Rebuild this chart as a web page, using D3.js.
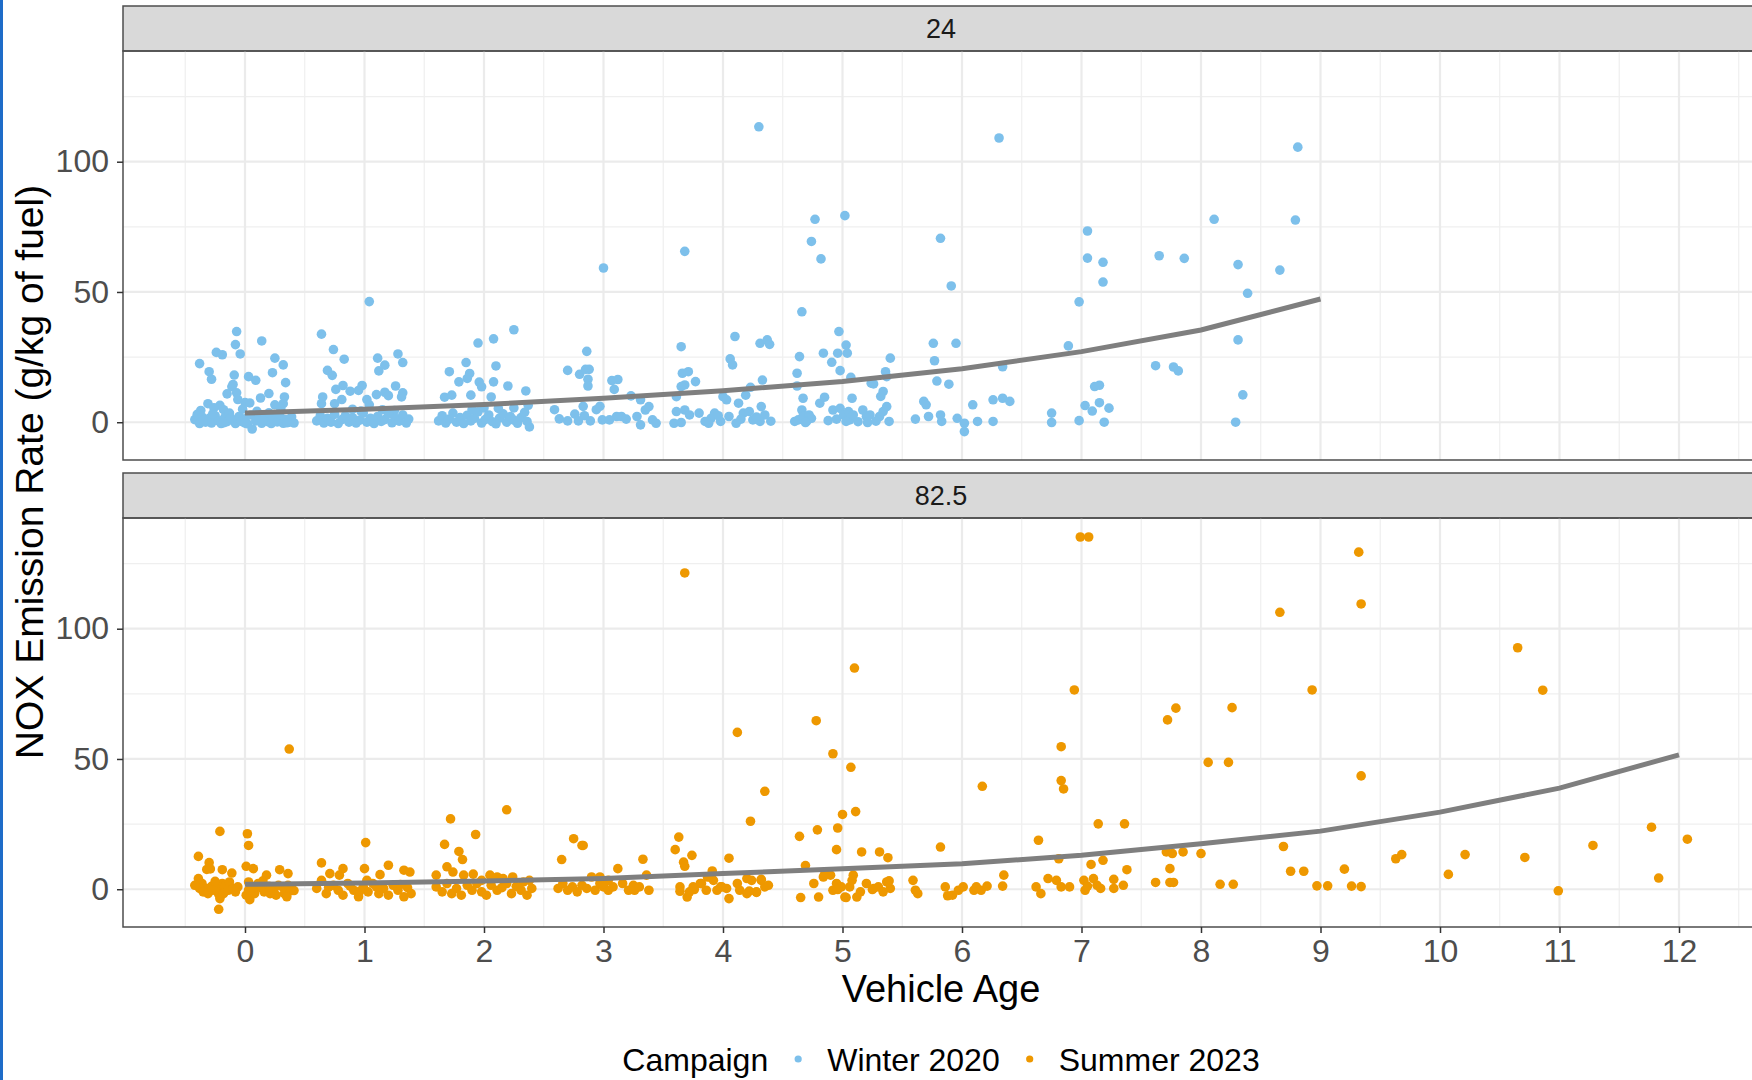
<!DOCTYPE html>
<html>
<head>
<meta charset="utf-8">
<script src="https://cdn.jsdelivr.net/npm/d3@7"></script>
<style>
  body { margin: 0; background: #fff; }
  text { font-family: "Liberation Sans", Arial, Helvetica, sans-serif; }
</style>
</head>
<body>
<div id="chart"></div>
<script>
// facet labels and legend entries
const panelLabels = ["24", "82.5"];
const campaigns = ["Winter 2020", "Summer 2023"];
const campaignColors = ["#7DC0EB", "#EE9800"];

// tick labels
const ageTicks = [0, 1, 2, 3, 4, 5, 6, 7, 8, 9, 10, 11, 12];
const ageMinor = [-0.5, 0.5, 1.5, 2.5, 3.5, 4.5, 5.5, 6.5, 7.5, 8.5, 9.5, 10.5, 11.5, 12.5];
const noxTicks = [0, 50, 100];
const noxMinor = [25, 75, 125];

// smooth fits (per integer age)
const smoothAges24 = [0, 1, 2, 3, 4, 5, 6, 7, 8, 9];
const smoothNox24 = [3.5, 5.0, 6.8, 9.2, 12.1, 15.6, 20.5, 27.1, 35.4, 47.3];
const smoothAges825 = [0, 1, 2, 3, 4, 5, 6, 7, 8, 9, 10, 11, 12];
const smoothNox825 = [1.9, 2.4, 3.2, 4.1, 6.0, 7.9, 9.8, 13.0, 17.5, 22.3, 29.6, 38.8, 51.6];

// Winter 2020 points: [vehicle age (jittered), NOx g/kg]
const winterPoints = [
  [-0.07,34.8],[-0.08,29.8],[-0.04,26.2],[0.14,31.2],[-0.24,26.8],[-0.19,25.9],[-0.38,22.5],[-0.30,19.4],[-0.28,16.5],[-0.09,18.1],
  [0.03,17.5],[0.09,16.1],[0.25,24.6],[0.32,22.0],[0.23,19.0],[0.34,15.2],[-0.11,13.6],[-0.10,14.5],[-0.15,10.9],[-0.07,11.3],
  [0.20,11.0],[0.13,9.3],[0.33,9.7],[0.32,7.1],[-0.31,7.1],[-0.21,6.5],[-0.18,4.8],[-0.06,8.7],[0.00,7.6],[0.04,7.4],[0.25,6.7],
  [-0.37,4.5],[-0.26,5.5],[-0.02,5.0],[0.10,4.2],[0.30,5.1],
  [-0.42,1],[-0.40,3],[-0.38,-0.5],[-0.36,2],[-0.33,0],[-0.30,1.5],[-0.28,-0.3],[-0.25,2.5],[-0.22,0.5],[-0.20,-0.5],
  [-0.17,1.8],[-0.15,0.2],[-0.13,3.5],[-0.10,0.8],[-0.08,-0.5],[-0.05,2.2],[-0.03,0.3],[0.00,1.3],[0.02,-0.6],[0.05,2.8],
  [0.06,-2.6],[0.09,0.5],[0.12,1.8],[0.14,-0.4],[0.17,2.5],[0.19,0.2],[0.22,-0.5],[0.24,1.5],[0.27,0.1],[0.29,3.0],
  [0.32,-0.4],[0.34,1.0],[0.37,0.0],[0.39,2.0],[0.41,-0.3],[-0.35,0.6],[-0.18,-0.2],[0.00,-0.3],[0.15,0.9],[0.35,-0.2],
  [-0.12,1.6],[0.20,3.6],[-0.27,3.2],
  [1.04,46.3],[0.64,33.8],[0.74,27.9],[0.83,24.2],[0.69,19.9],[0.73,18.0],[1.11,24.6],[1.17,21.9],[1.12,19.7],[1.28,26.2],
  [1.32,22.9],[0.82,14.1],[0.76,12.6],[0.88,11.9],[0.98,14.1],[0.95,12.2],[0.65,9.7],[0.64,7.1],[0.75,7.1],[0.81,8.7],
  [1.10,10.6],[1.17,11.5],[1.20,10.2],[1.26,13.9],[1.32,11.3],[1.31,9.7],[1.02,8.7],[1.04,6.7],[0.97,4.3],[0.90,5.0],
  [1.15,4.8],[1.25,4.5],
  [0.60,0.5],[0.63,2.5],[0.66,-0.3],[0.69,1.5],[0.72,0],[0.75,3],[0.78,-0.5],[0.81,1],[0.84,2.5],[0.87,0],
  [0.90,1.8],[0.93,-0.3],[0.96,0.8],[0.99,3.5],[1.02,0],[1.05,1.5],[1.08,-0.5],[1.11,2.2],[1.14,0.3],[1.17,1],
  [1.20,3.2],[1.23,-0.2],[1.26,1.5],[1.29,0.4],[1.32,2.8],[1.35,-0.3],[1.37,1.2],
  [2.25,35.5],[1.95,30.4],[2.08,32.0],[1.85,22.9],[1.71,19.4],[1.88,18.7],[1.86,16.8],[2.10,21.6],[1.79,15.5],[1.96,15.4],
  [1.98,13.6],[2.08,15.5],[2.20,13.9],[2.35,12.0],[1.67,9.6],[1.73,10.4],[1.89,10.4],[2.06,9.7],[2.37,6.5],
  [1.62,0.5],[1.65,2.5],[1.68,-0.3],[1.71,1.2],[1.74,3.5],[1.77,0],[1.80,1.8],[1.83,-0.5],[1.86,2.7],[1.89,0.5],
  [1.92,1.5],[1.95,4],[1.98,-0.3],[2.01,1],[2.04,2.8],[2.07,0.2],[2.10,-0.6],[2.13,1.6],[2.16,3.2],[2.19,0],
  [2.22,2.2],[2.25,0.8],[2.28,-0.4],[2.31,1.8],[2.34,3.8],[2.36,0.3],[2.38,-1.8],[2.00,5.5],[2.12,5.3],[2.25,5.5],[1.90,4.8],
  [3.00,59.2],[2.70,19.9],[2.86,27.2],[2.80,18.4],[2.85,20.3],[2.88,20.3],[2.87,16.5],[2.87,13.9],[2.59,4.8],[2.63,1.3],
  [2.70,0.5],[2.76,3.1],[2.79,0.5],[2.84,2.5],[2.83,6.1],[2.89,0.5],[2.94,4.8],[2.99,0.9],[2.97,6.1],[3.07,16.0],
  [3.12,16.4],[3.09,12.6],[3.11,2.2],[3.05,0.9],[3.15,2.2],[3.19,1.2],[3.23,10.1],[3.31,8.6],[3.28,2.2],[3.31,-1.0],
  [3.35,4.7],[3.38,6.0],[3.41,0.9],[3.44,-0.4],
  [3.68,65.6],[4.30,113.4],[3.65,29.0],[3.66,18.8],[3.71,19.4],[3.68,14.3],[3.65,13.7],[3.77,15.6],[3.61,9.8],[3.61,4.1],
  [3.68,4.7],[3.59,-0.4],[3.65,-0.1],[3.72,2.8],[3.80,3.5],[3.85,0.3],[3.90,1.5],[3.93,3.5],[3.98,0.3],[4.10,32.9],
  [4.06,24.3],[4.08,22.0],[4.00,9.8],[4.03,8.6],[4.13,7.3],[4.19,10.4],[4.23,13.4],[4.33,16.2],[4.31,30.3],[4.37,31.6],
  [4.39,29.9],[4.05,2.2],[4.11,-0.4],[4.17,3.5],[4.22,4.1],[4.25,0.9],[4.32,6.0],[4.35,2.8],[4.31,0.3],[3.88,-0.4],
  [3.96,2.5],[4.15,1.2],[4.28,2.0],[4.40,0.4],
  [4.77,77.9],[5.02,79.3],[4.74,69.4],[4.82,62.7],[4.66,42.4],[4.97,34.8],[4.64,25.2],[4.62,18.8],[4.62,13.9],[4.67,9.2],
  [4.66,4.7],[4.63,0.9],[4.67,2.2],[4.72,2.8],[4.74,1.5],[4.70,0.3],[4.60,0.3],[4.81,7.3],[4.85,9.6],[4.84,26.5],
  [4.91,23.0],[4.96,26.5],[4.98,19.8],[5.03,29.6],[5.04,26.5],[5.07,17.2],[5.08,9.2],[4.92,4.7],[4.98,5.3],[5.01,2.8],
  [5.06,0.9],[5.05,4.1],[5.03,0.3],[5.09,2.8],[5.17,4.7],[5.20,2.2],[5.21,-0.1],[5.23,2.8],[5.31,2.2],[5.34,4.1],
  [5.37,6.0],[5.39,0.3],[5.24,15.0],[5.36,19.4],[5.40,24.6],[5.32,9.9],[5.34,11.8],[5.26,14.7],[5.37,17.5],[4.69,-0.1],
  [4.88,0.6],[5.13,0.2],[5.28,0.4],[4.95,1.2],
  [5.82,70.6],[5.91,52.3],[6.31,109.1],[5.61,1.2],[5.72,2.2],[5.68,8.0],[5.70,6.7],[5.76,30.3],[5.95,30.3],[5.77,23.6],
  [5.79,15.8],[5.89,14.6],[5.82,2.8],[5.83,0.3],[5.96,1.5],[6.02,-0.4],[6.02,-3.6],[6.09,6.7],[6.13,0.3],[6.26,8.6],
  [6.26,0.3],[6.34,9.2],[6.40,8.0],[6.34,21.3],
  [6.98,46.2],[7.05,73.4],[7.05,63.0],[7.18,61.4],[7.18,53.8],[6.89,29.3],[6.75,3.5],[6.75,-0.1],[6.98,0.6],[7.03,6.4],
  [7.09,4.3],[7.11,13.7],[7.15,14.2],[7.15,7.5],[7.23,5.4],[7.19,0],
  [7.65,63.9],[7.86,62.9],[7.62,21.7],[7.77,21.2],[7.81,19.7],
  [8.11,77.9],[8.31,60.5],[8.39,49.5],[8.31,31.6],[8.35,10.5],[8.29,0],
  [8.66,58.4],[8.79,77.6],[8.81,105.6]
];

// Summer 2023 points: [vehicle age (jittered), NOx g/kg]
const summerPoints = [
  [-0.39,12.6],[-0.21,22.2],[-0.30,10.2],[-0.32,7.6],[-0.29,7.8],[-0.19,7.5],[-0.11,6.2],
  [-0.39,4.1],[-0.36,2.2],[-0.32,0.3],[-0.28,1.1],[-0.24,0.6],[-0.19,2.2],[-0.21,-1.0],[-0.17,1.1],[-0.13,2.8],
  [-0.38,0.3],[-0.35,-1.0],[-0.31,-1.7],[-0.27,-0.4],[-0.22,-1.9],[-0.18,-1.7],[-0.14,-0.4],[-0.10,0.3],[-0.06,0.9],
  [-0.21,-3.6],[-0.22,-7.7],[-0.42,1.5],[-0.08,-1.0],[-0.25,3.0],
  [0.02,21.3],[0.03,16.8],[0.01,8.8],[0.07,7.9],[0.18,5.4],[0.29,7.5],[0.36,6.0],[0.37,53.8],
  [0.03,2.8],[0.03,-0.4],[0.04,-4.0],[0.08,-1.7],[0.13,0.6],[0.16,-1.0],[0.20,1.1],[0.24,-0.4],[0.28,1.5],[0.32,0.6],
  [0.33,-1.7],[0.38,-0.6],[0.36,1.5],[0.11,2.2],[0.21,-1.7],[0.26,-2.3],[0.35,-2.9],[0.21,0.3],[0.01,-2.3],[0.06,0.5],
  [0.41,-0.5],[0.15,3.2],
  [1.01,17.9],[0.64,10.1],[0.71,6.0],[0.82,7.9],[0.79,5.4],[1.00,7.9],[1.20,9.2],[1.13,5.6],[1.33,7.3],[1.38,6.6],[1.02,3.4],
  [0.60,0.3],[0.64,3.4],[0.68,-1.7],[0.74,1.5],[0.78,-0.4],[0.82,-2.3],[0.86,2.2],[0.91,-0.4],[0.95,-2.9],[0.99,0.9],
  [1.03,-1.0],[1.07,2.2],[1.12,-1.7],[1.16,0.3],[1.20,-2.3],[1.24,1.5],[1.28,-0.4],[1.33,-2.9],[1.36,0.6],[1.39,-1.7],
  [0.70,0.8],[0.88,1.2],[1.10,0.9],[1.30,1.8],[0.96,-0.8],
  [1.72,27.0],[2.19,30.5],[1.93,21.0],[1.67,17.2],[1.79,14.5],[1.82,11.4],
  [1.60,5.4],[1.69,8.6],[1.74,6.6],[1.83,5.4],[1.91,5.8],[1.98,3.4],[2.05,5.4],[2.11,4.7],[2.16,4.1],[2.24,4.7],
  [2.33,2.8],[2.38,3.4],
  [1.60,0.9],[1.65,-1.0],[1.69,2.2],[1.73,-1.7],[1.77,0.3],[1.81,-2.3],[1.86,1.5],[1.90,-0.4],[1.94,2.2],[1.98,-1.0],
  [2.02,-2.3],[2.06,1.5],[2.11,-0.4],[2.15,0.6],[2.19,2.2],[2.23,-1.7],[2.27,1.1],[2.31,-0.4],[2.36,-2.3],[2.40,0.3],
  [2.65,11.4],[2.75,19.4],[2.82,16.8],[2.83,16.8],
  [2.62,0.3],[2.66,2.2],[2.70,-0.4],[2.74,0.9],[2.78,-1.0],[2.82,1.5],[2.86,0.3],[2.90,4.7],[2.93,-0.4],[2.97,2.2],
  [3.00,0.9],[3.04,-0.4],[3.08,0.9],[3.12,7.9],[3.16,2.2],[3.21,-0.4],[3.25,1.5],[3.26,-0.4],[3.30,0.9],[3.33,11.5],
  [3.36,5.4],[3.38,-0.4],[2.97,4.7],[3.00,2.2],[3.04,3.4],
  [3.68,121.4],[3.63,20.0],[3.60,15.2],[3.67,10.4],[3.68,8.8],[3.74,13.0],
  [3.64,0.9],[3.64,-0.8],[3.70,-3.0],[3.72,-1.0],[3.75,0.9],[3.81,2.2],[3.86,-0.4],[3.91,7.0],[3.92,3.4],[3.95,-0.4],
  [3.98,0.9],[4.03,0.3],[4.05,11.9],[4.05,-3.6],[4.12,2.2],[4.14,-0.4],[4.20,-1.7],[4.20,4.1],[4.24,3.4],[4.28,-1.0],
  [4.32,3.4],[4.35,0.9],[4.38,1.5],[4.12,60.2],[4.23,26.1],[4.35,37.6],[3.87,4.7],
  [3.76,-0.1],[3.82,2.2],[3.90,4.5],[3.99,0.9],[4.22,-0.7],[4.32,3.8],[4.28,-1.2],
  [4.78,64.7],[4.92,52.0],[5.07,46.8],[5.10,84.9],[4.64,20.3],[4.79,22.8],[4.96,23.5],[5.00,28.7],[5.11,29.8],[4.95,15.2],
  [5.16,14.3],[5.31,14.3],[5.38,12.1],[4.69,9.1],
  [4.76,2.2],[4.80,-3.0],[4.84,4.7],[4.90,5.4],[4.95,2.2],[4.92,-0.4],[4.99,0.9],[5.02,-3.0],[5.06,0.9],[5.08,3.4],
  [5.09,5.4],[5.12,-3.0],[5.15,-1.0],[5.20,2.2],[5.26,0.3],[5.30,0.9],[5.34,-1.0],[5.37,2.8],[5.40,0.3],[4.65,-3.2],
  [4.85,5.7],[4.96,-0.1],[5.03,-3.2],[5.25,-0.1],[5.39,3.2],
  [5.59,3.4],[5.61,-0.4],[5.63,-1.7],[5.82,16.2],[5.86,0.9],[5.92,-2.3],[5.97,-0.4],[6.01,0.9],[6.10,-0.4],[6.16,-0.4],
  [6.21,1.2],[6.35,5.4],[6.34,1.2],[6.17,39.5],[5.88,-2.5],[6.12,0.9],
  [6.64,18.8],[6.81,11.7],[6.62,0.9],[6.66,-1.7],[6.72,4.1],[6.79,3.4],[6.83,0.9],[6.90,0.9],[6.83,54.7],[6.94,76.5],
  [6.99,135.2],[7.06,135.2],[6.83,41.7],[6.85,38.5],[7.14,25.1],[7.36,25.1],
  [7.02,3.4],[7.03,-0.4],[7.10,4.1],[7.13,1.5],[7.16,0.3],[7.18,11.1],[7.27,0.3],[7.27,3.8],[7.35,1.5],[7.38,7.5],
  [7.08,9.5],[7.05,1.2],
  [7.72,65.0],[7.79,69.5],[8.26,69.7],[8.06,48.7],[8.23,48.7],[7.62,2.6],[7.74,2.6],[7.77,2.6],[7.74,7.9],[7.71,14.3],
  [7.76,13.7],[7.85,14.3],[8.00,13.7],[8.16,1.9],[8.27,1.9],
  [8.66,106.3],[8.93,76.5],[8.69,16.4],[8.75,6.9],[8.86,6.9],[8.97,1.3],[9.06,1.3],[9.20,7.7],[9.26,1.2],[9.34,1.0],
  [9.32,129.4],[9.34,109.5],[9.34,43.5],[9.63,11.7],[9.68,13.3],
  [10.07,5.7],[10.21,13.3],[10.65,92.7],[10.71,12.2],[10.86,76.4],[10.99,-0.6],[11.28,16.8],[11.77,23.8],[11.83,4.3],[12.07,19.2]
];

const panels = [
  { label: panelLabels[0], points: winterPoints, color: campaignColors[0], ages: smoothAges24, nox: smoothNox24 },
  { label: panelLabels[1], points: summerPoints, color: campaignColors[1], ages: smoothAges825, nox: smoothNox825 }
];

// layout
const width = 1752;
const height = 1080;
const panelLeft = 123;
const panelRight = 1759;
const stripHeight = 45;
const panelTops = [6, 473];
const panelHeight = 409;

const svg = d3
  .select("#chart")
  .append("svg")
  .attr("width", width)
  .attr("height", height);

svg.append("rect").attr("width", width).attr("height", height).attr("fill", "#fff");

// x scale: shared by both facets
const x = d3.scaleLinear().domain([0, 12]).range([245, 1679]);

panels.forEach((p, i) => {
  const top = panelTops[i] + stripHeight;
  const bottom = top + panelHeight;
  const y = d3.scaleLinear().domain([-14.5, 142.5]).range([bottom, top]);
  const g = svg.append("g");

  // strip
  g.append("rect")
    .attr("x", panelLeft)
    .attr("y", panelTops[i])
    .attr("width", panelRight - panelLeft)
    .attr("height", stripHeight)
    .attr("fill", "#D9D9D9")
    .attr("stroke", "#4D4D4D")
    .attr("stroke-width", 1.5);
  g.append("text")
    .attr("x", (panelLeft + panelRight) / 2)
    .attr("y", panelTops[i] + stripHeight / 2)
    .attr("dy", "0.36em")
    .attr("text-anchor", "middle")
    .style("font-size", "27px")
    .style("fill", "#1A1A1A")
    .text(p.label);

  // minor grid
  g.selectAll(".xMinor")
    .data(ageMinor)
    .join("line")
    .attr("x1", (d) => x(d))
    .attr("x2", (d) => x(d))
    .attr("y1", top)
    .attr("y2", bottom)
    .attr("stroke", "#EFEFEF")
    .attr("stroke-width", 1.2);
  g.selectAll(".yMinor")
    .data(noxMinor)
    .join("line")
    .attr("x1", panelLeft)
    .attr("x2", panelRight)
    .attr("y1", (d) => y(d))
    .attr("y2", (d) => y(d))
    .attr("stroke", "#EFEFEF")
    .attr("stroke-width", 1.2);

  // major grid
  g.selectAll(".xMajor")
    .data(ageTicks)
    .join("line")
    .attr("x1", (d) => x(d))
    .attr("x2", (d) => x(d))
    .attr("y1", top)
    .attr("y2", bottom)
    .attr("stroke", "#EBEBEB")
    .attr("stroke-width", 2.2);
  g.selectAll(".yMajor")
    .data(noxTicks)
    .join("line")
    .attr("x1", panelLeft)
    .attr("x2", panelRight)
    .attr("y1", (d) => y(d))
    .attr("y2", (d) => y(d))
    .attr("stroke", "#EBEBEB")
    .attr("stroke-width", 2.2);

  // points
  g.selectAll("circle")
    .data(p.points)
    .join("circle")
    .attr("cx", (d) => x(d[0]))
    .attr("cy", (d) => y(d[1]))
    .attr("r", 4.8)
    .attr("fill", p.color);

  // smooth line
  const line = d3
    .line()
    .x((d) => x(d[0]))
    .y((d) => y(d[1]));
  g.append("path")
    .datum(d3.zip(p.ages, p.nox))
    .attr("fill", "none")
    .attr("stroke", "#7F7F7F")
    .attr("stroke-width", 5)
    .attr("d", line);

  // panel border
  g.append("rect")
    .attr("x", panelLeft)
    .attr("y", top)
    .attr("width", panelRight - panelLeft)
    .attr("height", panelHeight)
    .attr("fill", "none")
    .attr("stroke", "#4D4D4D")
    .attr("stroke-width", 1.5);

  // y axis
  const yAxis = g
    .append("g")
    .attr("transform", `translate(${panelLeft},0)`)
    .call(d3.axisLeft(y).tickValues(noxTicks).tickSize(6).tickPadding(8));
  yAxis.select(".domain").remove();
  yAxis.selectAll(".tick line").attr("stroke", "#333").attr("stroke-width", 1.5);
  yAxis
    .selectAll(".tick text")
    .attr("fill", "#4D4D4D")
    .style("font-size", "32px")
    .style("font-family", "'Liberation Sans', Arial, sans-serif");

  // x axis only under the last facet
  if (i === panels.length - 1) {
    const xAxis = g
      .append("g")
      .attr("transform", `translate(0,${bottom})`)
      .call(d3.axisBottom(x).tickValues(ageTicks).tickSize(6).tickPadding(6));
    xAxis.select(".domain").remove();
    xAxis.selectAll(".tick line").attr("stroke", "#333").attr("stroke-width", 1.5);
    xAxis
      .selectAll(".tick text")
      .attr("fill", "#4D4D4D")
      .style("font-size", "32px")
      .style("font-family", "'Liberation Sans', Arial, sans-serif");
  }
});

// axis titles
svg
  .append("text")
  .attr("x", (panelLeft + panelRight) / 2)
  .attr("y", 1002)
  .attr("text-anchor", "middle")
  .style("font-size", "38px")
  .style("fill", "#000")
  .text("Vehicle Age");

svg
  .append("text")
  .attr("transform", `translate(43,${472}) rotate(-90)`)
  .attr("text-anchor", "middle")
  .style("font-size", "39px")
  .style("fill", "#000")
  .text("NOX Emission Rate (g/kg of fuel)");

// legend
const legend = svg.append("g");
const legendTitle = legend
  .append("text")
  .attr("x", 0)
  .attr("y", 1071)
  .style("font-size", "32px")
  .style("fill", "#000")
  .text("Campaign");
let cursor = legendTitle.node().getComputedTextLength() + 30;
campaigns.forEach((c, i) => {
  legend
    .append("circle")
    .attr("cx", cursor)
    .attr("cy", 1059)
    .attr("r", 3.6)
    .attr("fill", campaignColors[i]);
  const t = legend
    .append("text")
    .attr("x", cursor + 29)
    .attr("y", 1071)
    .style("font-size", "32px")
    .style("fill", "#000")
    .text(c);
  cursor += 29 + t.node().getComputedTextLength() + 30;
});
const legendWidth = cursor - 30;
legend.attr("transform", `translate(${(panelLeft + panelRight) / 2 - legendWidth / 2},0)`);

// thin blue edge at the far left of the picture
svg.append("rect").attr("x", 0).attr("y", 0).attr("width", 3).attr("height", height).attr("fill", "#1E6CC8");
</script>
</body>
</html>
